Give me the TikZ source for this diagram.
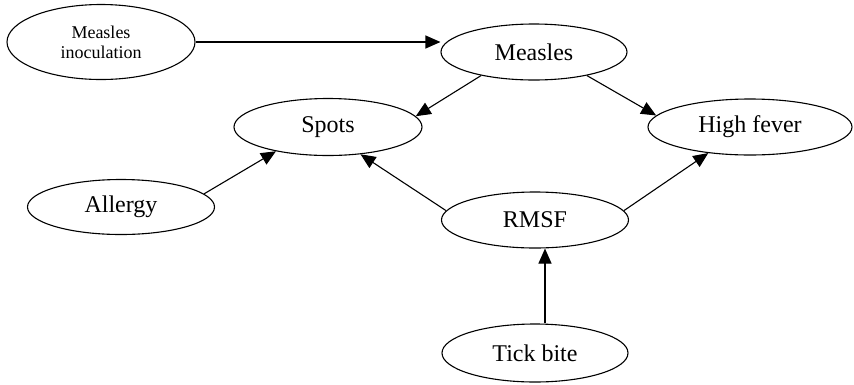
\documentclass[tikz,border=0pt]{standalone}
\usepackage{fontspec}
\setmainfont{Liberation Serif}
\usetikzlibrary{shapes.geometric,arrows.meta}

\begin{document}
\begin{tikzpicture}[x=1pt, y=-1pt,
    cause/.style={draw, ellipse, line width=1.1pt, inner sep=0pt,
                  minimum width=187pt, minimum height=56pt,
                  font=\fontsize{24}{28}\selectfont},
    arr/.style={line width=1.1pt, -{Triangle[length=15pt, width=13pt]}},
]
\useasboundingbox (0,0) rectangle (854,384);

\node[cause, minimum width=188pt, minimum height=75pt, align=center,
      font=\fontsize{18}{20}\selectfont] (inoc) at (101,42) {Measles\\inoculation};
\node[cause, minimum width=186pt] (measles) at (534,52) {Measles};
\node[cause, minimum width=188pt, minimum height=57pt] (spots) at (328,127) {Spots};
\node[cause, minimum width=204pt] (fever) at (750,127) {High fever};
\node[cause, minimum height=55pt] (allergy) at (121,207) {Allergy};
\node[cause] (rmsf) at (535,220) {RMSF};
\node[cause, minimum width=186pt, minimum height=58pt] (tick) at (535,353) {Tick bite};

\draw[arr] (inoc.east) -- (inoc.east -| measles.west);
\draw[arr] (measles.204) -- (spots.7);
\draw[arr] (measles.-24) -- (fever.173);
\draw[arr] (allergy.9) -- (spots.205);
\draw[arr] (rmsf.174) -- (spots.-40);
\draw[arr] (rmsf.6) -- (fever.212);
\draw[arr] ([xshift=10pt]tick.north) -- ([xshift=10pt]rmsf.south);
\end{tikzpicture}
\end{document}
